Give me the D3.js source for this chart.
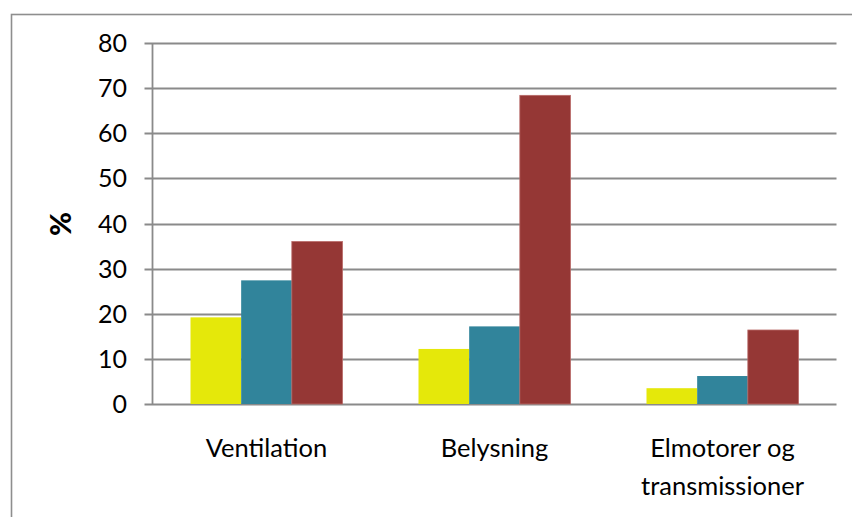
<!DOCTYPE html>
<html>
<head>
<meta charset="utf-8">
<script src="https://cdn.jsdelivr.net/npm/d3@7"></script>
<style>
  html, body { margin: 0; padding: 0; background: #fff; }
  svg { display: block; }
</style>
</head>
<body>
<svg id="chart" width="852" height="517"></svg>
<script>
const categories = [["Ventilation"], ["Belysning"], ["Elmotorer og", "transmissioner"]];
const seriesNames = ["Serie 1", "Serie 2", "Serie 3"];
const seriesColors = ["#e5e80a", "#31849b", "#953735"];
const series1 = [19.2, 12.2, 3.5];
const series2 = [27.4, 17.2, 6.2];
const series3 = [36.0, 68.4, 16.4];
const yTicks = [0, 10, 20, 30, 40, 50, 60, 70, 80];
const yLabel = "%";

const svg = d3.select("#chart");
const W = 852, H = 517;
const font = "Lato, 'Open Sans', sans-serif";

// outer chart border (extends beyond frame on right/bottom)
svg.append("rect")
  .attr("x", 11.5).attr("y", 14.5)
  .attr("width", W + 10).attr("height", H + 10)
  .attr("fill", "none").attr("stroke", "#8e8e8e").attr("stroke-width", 1.6);

const plot = { left: 152.5, right: 836.5, top: 43, bottom: 404 };

const x = d3.scaleBand()
  .domain(d3.range(categories.length))
  .range([plot.left, plot.right])
  .paddingInner(0).paddingOuter(0);

const y = d3.scaleLinear().domain([0, 80]).range([plot.bottom, plot.top]);

const allSeries = [series1, series2, series3];
const barW = x.bandwidth() / 4.5;
const inner = d3.scaleBand()
  .domain(d3.range(allSeries.length))
  .range([0, barW * 3]);
const offset = (x.bandwidth() - barW * 3) / 2;

// gridlines
const gridColor = "#8a8a8a";
svg.append("g")
  .selectAll("line")
  .data(yTicks)
  .join("line")
  .attr("x1", plot.left - 8).attr("x2", plot.right)
  .attr("y1", d => Math.round(y(d)) + 0.5).attr("y2", d => Math.round(y(d)) + 0.5)
  .attr("stroke", gridColor).attr("stroke-width", 1.8);

// bars
allSeries.forEach((vals, si) => {
  svg.append("g")
    .selectAll("rect")
    .data(vals)
    .join("rect")
    .attr("x", (d, i) => x(i) + offset + inner(si))
    .attr("width", inner.bandwidth())
    .attr("y", d => y(d))
    .attr("height", d => y(0) - y(d))
    .attr("fill", seriesColors[si])
    .attr("stroke", si === 2 ? "#b86a68" : "none")
    .attr("stroke-width", si === 2 ? 0.8 : 0);
});

// y axis line
svg.append("line")
  .attr("x1", plot.left).attr("x2", plot.left)
  .attr("y1", plot.top).attr("y2", plot.bottom)
  .attr("stroke", gridColor).attr("stroke-width", 1.8);

// y tick labels
svg.append("g")
  .selectAll("text")
  .data(yTicks)
  .join("text")
  .attr("x", 127)
  .attr("y", d => y(d))
  .attr("dy", "0.36em")
  .attr("text-anchor", "end")
  .attr("font-family", font)
  .attr("font-size", 25)
  .attr("fill", "#000")
  .text(d => d);

// y label
svg.append("text")
  .attr("transform", "translate(71,224) rotate(-90)")
  .attr("text-anchor", "middle")
  .attr("font-family", font)
  .attr("font-weight", "900")
  .attr("font-size", 29)
  .attr("fill", "#000")
  .text(yLabel);

// category labels
const cat = svg.append("g")
  .selectAll("text")
  .data(categories)
  .join("text")
  .attr("x", (d, i) => x(i) + x.bandwidth() / 2)
  .attr("y", 457)
  .attr("text-anchor", "middle")
  .attr("font-family", font)
  .attr("font-size", 25.5)
  .attr("fill", "#000");
cat.selectAll("tspan")
  .data(d => d)
  .join("tspan")
  .attr("x", function() { return d3.select(this.parentNode).attr("x"); })
  .attr("dy", (d, i) => i === 0 ? 0 : 38)
  .text(d => d);
</script>
</body>
</html>
